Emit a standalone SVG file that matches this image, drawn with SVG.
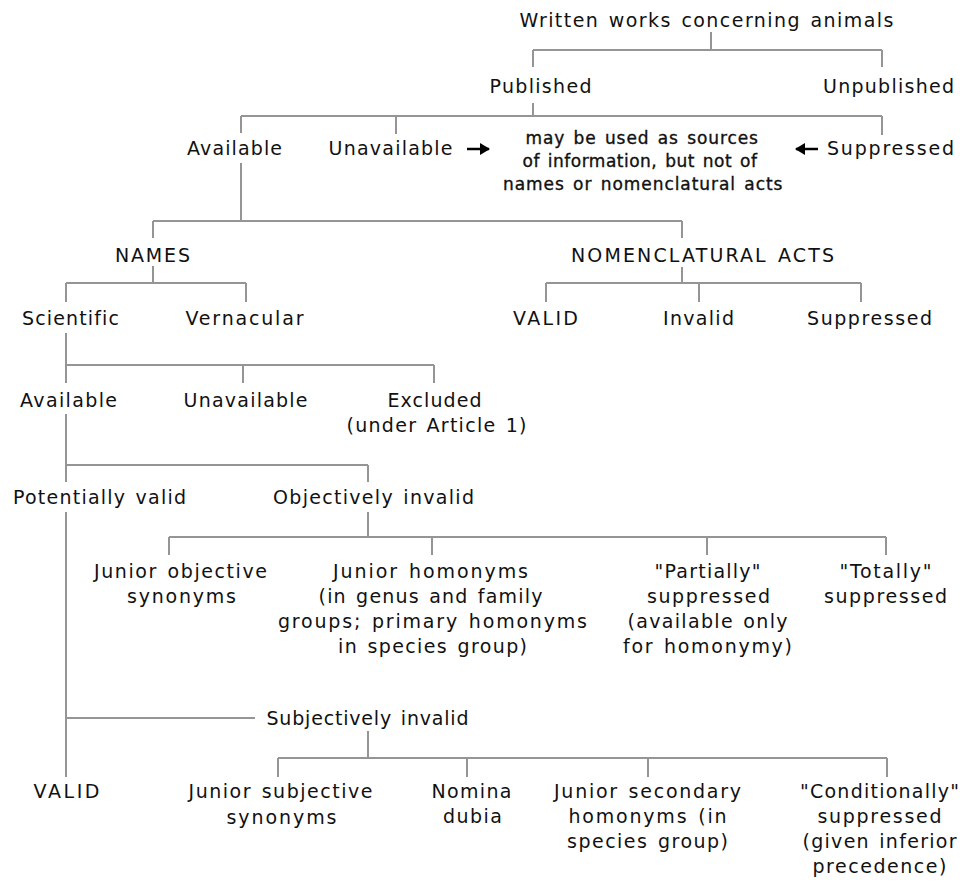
<svg xmlns="http://www.w3.org/2000/svg" width="961" height="881" viewBox="0 0 961 881">
<defs>
<style>
text{font-family:"DejaVu Sans",Verdana,sans-serif;font-size:19px;letter-spacing:1px;word-spacing:2px;fill:#111;text-anchor:middle}
text.note{font-size:17px;letter-spacing:0.6px;stroke:#111;stroke-width:0.35}
.c{fill:none;stroke:#959595;stroke-width:2}
.arr{stroke:#000;stroke-width:2.5;fill:none}
</style>
<marker id="ah" markerWidth="10" markerHeight="12" refX="9" refY="6" orient="auto" markerUnits="userSpaceOnUse">
<path d="M0,0 L10,6 L0,12 Z" fill="#000"/>
</marker>
</defs>
<rect width="961" height="881" fill="#fff"/>
<g id="connectors">
<path class="c" d="M711,32V50M533,50H882M533,50V67M882,50V67"/>
<path class="c" d="M533,103V116M241,116H882M241,116V133M396,116V134M882,116V135"/>
<path class="c" d="M241,163V221M153,221H682M153,221V238M682,221V238"/>
<path class="c" d="M153,266V283M66,283H246M66,283V302M246,283V302"/>
<path class="c" d="M682,267V283M546,283H861M546,283V302M699,283V302M861,283V302"/>
<path class="c" d="M66,333V383M66,365H434M243,365V383M434,365V383"/>
<path class="c" d="M66,414V482M66,465H368M368,465V482"/>
<path class="c" d="M66,512V777M66,718H255"/>
<path class="c" d="M368,512V537M169,537H886M169,537V555M432,537V555M707,537V555M886,537V555"/>
<path class="c" d="M368,731V758M278,758H887M278,758V777M467,758V777M648,758V777M887,758V777"/>
<path class="arr" d="M467,149H489" marker-end="url(#ah)"/>
<path class="arr" d="M818,149H796" marker-end="url(#ah)"/>
</g>
<g id="n-root"><text x="707" y="27" textLength="375" lengthAdjust="spacing">Written works concerning animals</text></g>
<g id="n-published"><text x="541" y="93" textLength="103" lengthAdjust="spacing">Published</text></g>
<g id="n-unpublished"><text x="889" y="93" textLength="132" lengthAdjust="spacing">Unpublished</text></g>
<g id="n-available-works"><text x="235" y="155" textLength="96" lengthAdjust="spacing">Available</text></g>
<g id="n-unavailable-works"><text x="391" y="155" textLength="125" lengthAdjust="spacing">Unavailable</text></g>
<g id="n-note"><text class="note" x="642" y="144" textLength="233" lengthAdjust="spacing">may be used as sources</text><text class="note" x="640" y="167" textLength="235" lengthAdjust="spacing">of information, but not of</text><text class="note" x="643" y="190" textLength="280" lengthAdjust="spacing">names or nomenclatural acts</text></g>
<g id="n-suppressed-works"><text x="891" y="155" textLength="128" lengthAdjust="spacing">Suppressed</text></g>
<g id="n-names"><text x="153" y="262" textLength="76" lengthAdjust="spacing">NAMES</text></g>
<g id="n-acts"><text x="703" y="262" textLength="264" lengthAdjust="spacing">NOMENCLATURAL ACTS</text></g>
<g id="n-scientific"><text x="71" y="325" textLength="98" lengthAdjust="spacing">Scientific</text></g>
<g id="n-vernacular"><text x="245" y="325" textLength="119" lengthAdjust="spacing">Vernacular</text></g>
<g id="n-acts-valid"><text x="546" y="325" textLength="66" lengthAdjust="spacing">VALID</text></g>
<g id="n-acts-invalid"><text x="699" y="325" textLength="72" lengthAdjust="spacing">Invalid</text></g>
<g id="n-acts-suppressed"><text x="870" y="325" textLength="126" lengthAdjust="spacing">Suppressed</text></g>
<g id="n-available"><text x="69" y="407" textLength="98" lengthAdjust="spacing">Available</text></g>
<g id="n-unavailable"><text x="246" y="407" textLength="125" lengthAdjust="spacing">Unavailable</text></g>
<g id="n-excluded"><text x="435" y="407" textLength="95" lengthAdjust="spacing">Excluded</text><text x="437" y="432" textLength="181" lengthAdjust="spacing">(under Article 1)</text></g>
<g id="n-potentially"><text x="100" y="504" textLength="174" lengthAdjust="spacing">Potentially valid</text></g>
<g id="n-objectively"><text x="374" y="504" textLength="202" lengthAdjust="spacing">Objectively invalid</text></g>
<g id="n-jos"><text x="181" y="578" textLength="174" lengthAdjust="spacing">Junior objective</text><text x="182" y="603" textLength="110" lengthAdjust="spacing">synonyms</text></g>
<g id="n-jh"><text x="431" y="578" textLength="196" lengthAdjust="spacing">Junior homonyms</text><text x="431" y="603" textLength="225" lengthAdjust="spacing">(in genus and family</text><text x="433" y="628" textLength="310" lengthAdjust="spacing">groups; primary homonyms</text><text x="433" y="653" textLength="190" lengthAdjust="spacing">in species group)</text></g>
<g id="n-partially"><text x="708" y="578" textLength="107" lengthAdjust="spacing">"Partially"</text><text x="709" y="603" textLength="124" lengthAdjust="spacing">suppressed</text><text x="708" y="628" textLength="161" lengthAdjust="spacing">(available only</text><text x="708" y="653" textLength="170" lengthAdjust="spacing">for homonymy)</text></g>
<g id="n-totally"><text x="886" y="578" textLength="93" lengthAdjust="spacing">"Totally"</text><text x="886" y="603" textLength="124" lengthAdjust="spacing">suppressed</text></g>
<g id="n-subjectively"><text x="368" y="725" textLength="203" lengthAdjust="spacing">Subjectively invalid</text></g>
<g id="n-valid"><text x="67" y="798" textLength="67" lengthAdjust="spacing">VALID</text></g>
<g id="n-jss"><text x="281" y="798" textLength="185" lengthAdjust="spacing">Junior subjective</text><text x="282" y="824" textLength="111" lengthAdjust="spacing">synonyms</text></g>
<g id="n-nomina"><text x="472" y="798" textLength="81" lengthAdjust="spacing">Nomina</text><text x="473" y="823" textLength="60" lengthAdjust="spacing">dubia</text></g>
<g id="n-jsh"><text x="648" y="798" textLength="188" lengthAdjust="spacing">Junior secondary</text><text x="648" y="823" textLength="159" lengthAdjust="spacing">homonyms (in</text><text x="648" y="848" textLength="162" lengthAdjust="spacing">species group)</text></g>
<g id="n-conditionally"><text x="880" y="798" textLength="160" lengthAdjust="spacing">"Conditionally"</text><text x="880" y="823" textLength="125" lengthAdjust="spacing">suppressed</text><text x="880" y="848" textLength="155" lengthAdjust="spacing">(given inferior</text><text x="880" y="873" textLength="135" lengthAdjust="spacing">precedence)</text></g>
</svg>
